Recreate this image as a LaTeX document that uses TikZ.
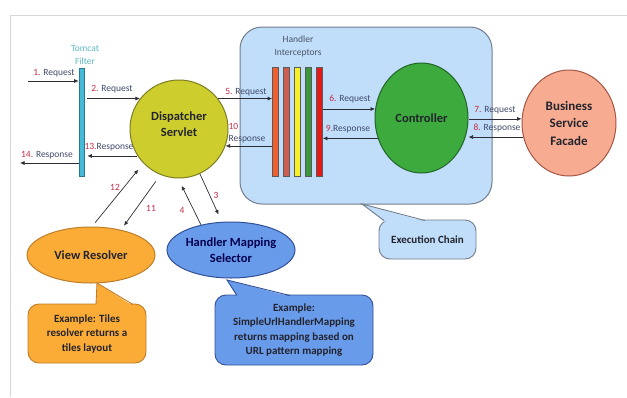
\documentclass[tikz,border=0pt]{standalone}
\usepackage{fontspec}
\setmainfont{Carlito}
\usetikzlibrary{arrows.meta,shapes.geometric}
\definecolor{dsyellow}{RGB}{205,205,45}
\definecolor{dsborder}{RGB}{125,125,35}
\definecolor{ctlgreen}{RGB}{60,170,60}
\definecolor{ctlborder}{RGB}{35,100,40}
\definecolor{bsfsalmon}{RGB}{247,172,145}
\definecolor{bsfborder}{RGB}{165,85,70}
\definecolor{vrorange}{RGB}{250,172,55}
\definecolor{vrborder}{RGB}{190,125,40}
\definecolor{hmblue}{RGB}{105,155,235}
\definecolor{hmborder}{RGB}{50,80,150}
\definecolor{chainblue}{RGB}{192,222,250}
\definecolor{chainborder}{RGB}{115,125,140}
\definecolor{filtercyan}{RGB}{70,185,215}
\definecolor{filterborder}{RGB}{40,120,150}
\definecolor{tomcat}{RGB}{95,185,195}
\definecolor{icA}{RGB}{240,95,45}
\definecolor{icB}{RGB}{205,95,80}
\definecolor{icC}{RGB}{250,240,40}
\definecolor{icD}{RGB}{60,150,60}
\definecolor{icE}{RGB}{230,25,25}
\definecolor{bargray}{RGB}{90,90,90}
\definecolor{linegray}{RGB}{45,45,55}
\definecolor{lblblue}{RGB}{65,75,105}
\definecolor{numred}{RGB}{195,45,70}
\definecolor{notetext}{RGB}{35,35,45}
\definecolor{framegray}{RGB}{215,215,215}
\definecolor{hdrgray}{RGB}{75,85,105}
\newcommand{\stepno}[1]{\textcolor{numred}{#1}}
\begin{document}
\begin{tikzpicture}[x=1pt,y=-1pt,
  arr/.style={draw=linegray,line width=.7pt,-{Latex[length=4.5pt,width=4pt]}},
  lbl/.style={font=\fontsize{9.5}{12}\selectfont,text=lblblue,inner sep=0pt},
  big/.style={line width=1pt,align=center,inner sep=0pt,font=\fontsize{12.5}{16}\selectfont\bfseries,text=notetext},
  bar/.style={draw=bargray,line width=.6pt,minimum width=6pt,minimum height=109pt,inner sep=0pt},
  note/.style={line width=.9pt,rounded corners=11pt,align=center,font=\fontsize{11}{14.5}\selectfont\bfseries,text=notetext}]
\useasboundingbox (0,0) rectangle (627,397);
\draw[framegray] (10,397) -- (10,15) -- (627,15);

% execution chain
\node[draw=chainborder,fill=chainblue,line width=1pt,rounded corners=22pt,minimum width=252pt,minimum height=177pt,inner sep=0pt] (chain) at (366,115.5) {};
\node[font=\fontsize{9.5}{13}\selectfont,text=hdrgray,align=center] (ictitle) at (298,46.5) {Handler\\Interceptors};
\foreach \c [count=\i] in {icA,icB,icC,icD,icE}
  \node[bar,fill=\c] (ic\i) at (264.5+11*\i,121.5) {};

% tomcat filter
\node[font=\fontsize{9.5}{13}\selectfont,text=tomcat,align=center] (tctitle) at (85,54.5) {Tomcat\\Filter};
\node[draw=filterborder,fill=filtercyan,line width=.6pt,minimum width=5pt,minimum height=108pt,inner sep=0pt] (filter) at (81.5,122.5) {};

% notes
\node[note,draw=vrborder,fill=vrorange,minimum width=118pt,minimum height=59pt] (vrnote) at (87,333.5) {Example: Tiles\\resolver returns a\\tiles layout};
\fill[vrorange] (97,283) -- (96,306) -- (133,306) -- cycle;
\draw[vrborder,line width=.9pt] (96,304.5) -- (97,283) -- (133,304.5);

\node[note,draw=hmborder,fill=hmblue,minimum width=158pt,minimum height=70pt] (hmnote) at (294,330) {Example:\\SimpleUrlHandlerMapping\\returns mapping based on\\URL pattern mapping};
\fill[hmblue] (227,280) -- (237,296.5) -- (290,296.5) -- cycle;
\draw[hmborder,line width=.9pt] (237,295.5) -- (227,280) -- (290,295.5);

\node[note,draw=chainborder,fill=chainblue,minimum width=97pt,minimum height=39pt] (chainnote) at (427.5,239.5) {Execution Chain};
\fill[chainblue] (362,204) -- (384,221.5) -- (425,221.5) -- cycle;
\draw[chainborder,line width=.9pt] (384,220.5) -- (362,204) -- (425,220.5);

% main parts
\node[big,circle,draw=dsborder,fill=dsyellow,minimum size=98pt,text depth=10pt] (ds) at (179,129) {Dispatcher\\Servlet};
\node[big,ellipse,draw=ctlborder,fill=ctlgreen,minimum width=93pt,minimum height=110pt] (ctl) at (421.5,118) {Controller};
\node[big,ellipse,draw=bsfborder,fill=bsfsalmon,minimum width=94pt,minimum height=106pt,font=\fontsize{13}{17.5}\selectfont\bfseries] (bsf) at (569,123) {Business\\Service\\Facade};
\node[big,ellipse,draw=vrborder,fill=vrorange,minimum width=128pt,minimum height=56pt] (vr) at (91,255) {View Resolver};
\node[big,ellipse,draw=hmborder,fill=hmblue,minimum width=128pt,minimum height=56pt,text=black!70!blue] (hm) at (231,250) {Handler Mapping\\Selector};

% request / response
\coordinate (in1) at (28,81);
\coordinate (out14) at (20,163);
\draw[arr] (in1) -- (in1 -| filter.west);
\draw[arr,shorten <=3pt] (ds.142 -| filter.east) -- (ds.142);
\draw[arr,shorten >=3pt] (ds.213) -- (ds.213 -| filter.east);
\draw[arr] (out14 -| filter.west) -- (out14);
\draw[arr] (ds.38) -- (ds.38 -| ic1.west);
\draw[arr] (ic1.west |- ds.-20) -- (ds.-20);
\draw[arr] (ctl.169 -| ic5.east) -- (ctl.169);
\draw[arr] (ctl.205) -- (ctl.205 -| ic5.east);
\draw[arr] (bsf.175 -| ctl.east) -- (bsf.175);
\draw[arr] (bsf.197) -- (bsf.197 -| ctl.east);
\draw[arr,shorten <=5pt,shorten >=8pt] (vr.88) -- (ds.224);
\draw[arr,shorten <=8pt,shorten >=5pt] (ds.248) -- (vr.40);
\draw[arr,shorten >=8pt] (hm.140) -- (ds.269);
\draw[arr,shorten >=8pt] (ds.295) -- (hm.108);

\node[lbl] (l1) at (54,73) {\stepno{1.} Request};
\node[lbl] (l2) at (112,89) {\stepno{2.} Request};
\node[lbl] (l13) at (109,147) {\stepno{13.}Response};
\node[lbl] (l14) at (47,155) {\stepno{14.} Response};
\node[lbl] (l5) at (246,92) {\stepno{5.} Request};
\node[lbl,align=left] (l10) at (247,133) {\stepno{10}\\Response};
\node[lbl] (l6) at (350,99) {\stepno{6.} Request};
\node[lbl] (l9) at (348,129) {\stepno{9.}Response};
\node[lbl] (l7) at (495,110) {\stepno{7.} Request};
\node[lbl] (l8) at (497,128) {\stepno{8.} Response};
\node[lbl] (l12) at (115,187) {\stepno{12}};
\node[lbl] (l11) at (151,208) {\stepno{11}};
\node[lbl] (l4) at (182,210) {\stepno{4}};
\node[lbl] (l3) at (216,195) {\stepno{3}};
\end{tikzpicture}
\end{document}
